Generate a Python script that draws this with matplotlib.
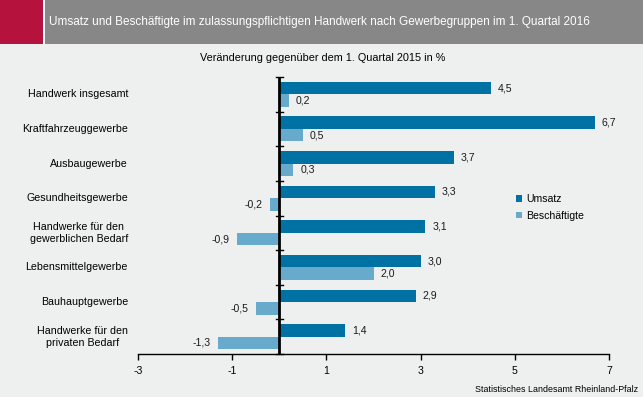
import matplotlib
matplotlib.use("Agg")
import matplotlib.pyplot as plt
from matplotlib.patches import Rectangle
import numpy as np

categories = ["Handwerk insgesamt", "Kraftfahrzeuggewerbe", "Ausbaugewerbe",
              "Gesundheitsgewerbe", "Handwerke für den\ngewerblichen Bedarf",
              "Lebensmittelgewerbe", "Bauhauptgewerbe",
              "Handwerke für den\nprivaten Bedarf"]
umsatz = [4.5, 6.7, 3.7, 3.3, 3.1, 3.0, 2.9, 1.4]
beschaeftigte = [0.2, 0.5, 0.3, -0.2, -0.9, 2.0, -0.5, -1.3]
xticks = [-3, -1, 1, 3, 5, 7]

plt.rcParams['font.family'] = ['Liberation Sans', 'DejaVu Sans']
BG = '#EEF0EF'
C1 = '#0071A3'
C2 = '#67AACB'

fig = plt.figure(figsize=(6.43, 3.97), dpi=100, facecolor=BG)
W, H = 643, 397
# header
fig.patches.append(Rectangle((43/W, 1 - 44/H), 2/W, 44/H, transform=fig.transFigure,
                             facecolor='white', edgecolor='none'))
fig.patches.append(Rectangle((0, 1 - 44/H), 43/W, 44/H, transform=fig.transFigure,
                             facecolor='#B5123E', edgecolor='none'))
fig.patches.append(Rectangle((45/W, 1 - 44/H), 1 - 45/W, 44/H, transform=fig.transFigure,
                             facecolor='#878787', edgecolor='none'))
fig.text(49/W, 1 - 22.5/H, "Umsatz und Beschäftigte im zulassungspflichtigen Handwerk nach Gewerbegruppen im 1. Quartal 2016",
         color='white', fontsize=8.5, va='center', ha='left')
fig.text(323/W, 1 - 58/H, "Veränderung gegenüber dem 1. Quartal 2015 in %",
         color='black', fontsize=7.8, va='center', ha='center')
fig.text(638/W, 1 - 389/H, "Statistisches Landesamt Rheinland-Pfalz",
         color='black', fontsize=6.4, va='center', ha='right')

ax = fig.add_axes([138/W, 1 - 354/H, (609 - 138)/W, (354 - 77)/H])
ax.set_facecolor(BG)
n = len(categories)
y = np.arange(n)
bh = 0.36
ax.barh(y - bh/2, umsatz, height=bh, color=C1, label='Umsatz')
ax.barh(y + bh/2, beschaeftigte, height=bh, color=C2, label='Beschäftigte')
ax.set_ylim(n - 0.5, -0.5)
ax.set_xlim(-3, 7)

def fmt(v):
    return f"{v:.1f}".replace('.', ',')

for i in range(n):
    for v, yy in ((umsatz[i], y[i] - bh/2), (beschaeftigte[i], y[i] + bh/2)):
        off = 5 if v >= 0 else -5
        ax.annotate(fmt(v), (v, yy), xytext=(off, 0), textcoords='offset points',
                    ha='left' if v >= 0 else 'right', va='center', fontsize=7.6,
                    color='#1a1a1a')

for s in ['top', 'right', 'left']:
    ax.spines[s].set_visible(False)
ax.spines['bottom'].set_color('black')
ax.spines['bottom'].set_linewidth(1.0)
ax.set_xticks(xticks)
ax.set_xticklabels([str(t) for t in xticks], fontsize=7.6)
ax.tick_params(axis='x', length=4, width=1, direction='out', pad=5)
ax.set_yticks([])

# zero axis
ax.axvline(0, color='black', lw=2)
for b in np.arange(-0.5, n + 0.5, 1.0):
    ax.plot([-0.07, 0.07], [b, b], color='black', lw=1, clip_on=False)

for i, c in enumerate(categories):
    ax.text(-3 - 10/47.1, i, c, ha='right', va='center', fontsize=7.7,
            multialignment='center', linespacing=1.25)

leg = ax.legend(loc='upper left', bbox_to_anchor=(506/W, 1 - 185/H),
                bbox_transform=fig.transFigure, frameon=False, fontsize=7.6,
                handlelength=0.6, handleheight=0.6, handletextpad=0.4,
                labelspacing=0.6)

fig.savefig('out.png', dpi=100, facecolor=BG)
